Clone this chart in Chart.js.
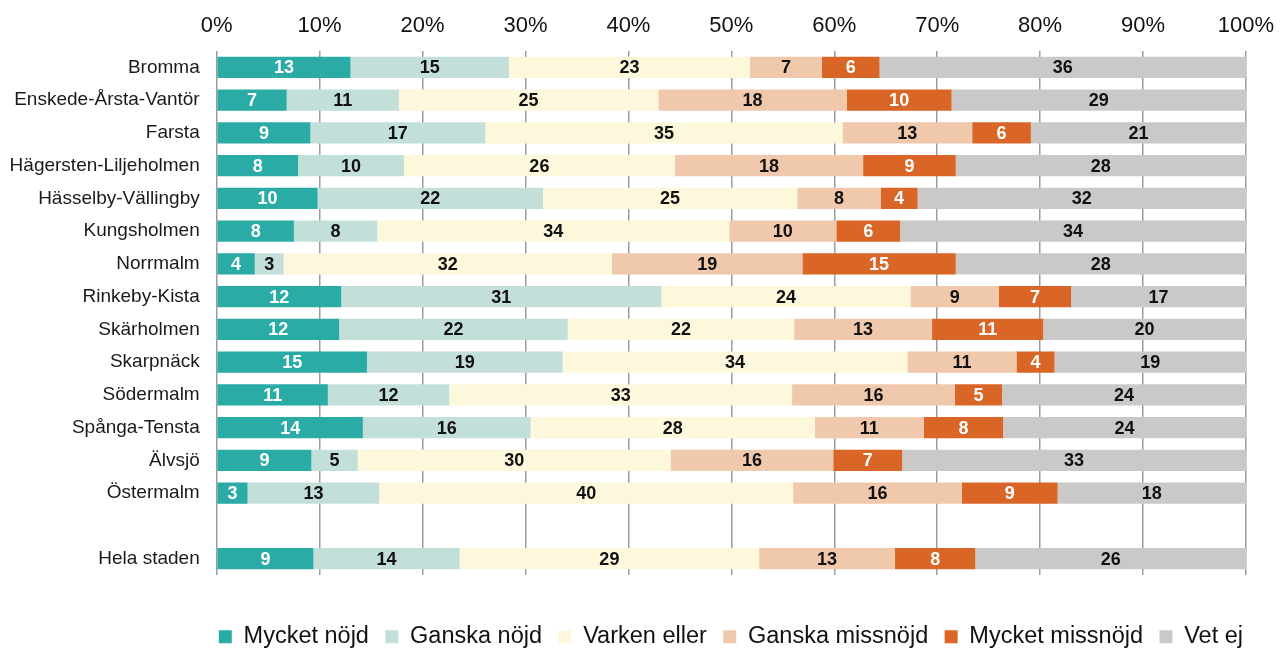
<!DOCTYPE html>
<html>
<head>
<meta charset="utf-8">
<script src="https://cdn.jsdelivr.net/npm/chart.js@4/dist/chart.umd.min.js"></script>
<style>
  html, body { margin: 0; padding: 0; background: #fff; }
  canvas { display: block; }
</style>
</head>
<body>
<canvas id="nojdChart" width="1282" height="650"></canvas>
<script>
// Stadsdelar (tom rad före Hela staden)
const stadsdelar = ['Bromma', 'Enskede-Årsta-Vantör', 'Farsta', 'Hägersten-Liljeholmen', 'Hässelby-Vällingby',
    'Kungsholmen', 'Norrmalm', 'Rinkeby-Kista', 'Skärholmen', 'Skarpnäck', 'Södermalm', 'Spånga-Tensta',
    'Älvsjö', 'Östermalm', '', 'Hela staden'];

const serieNamn = ['Mycket nöjd', 'Ganska nöjd', 'Varken eller', 'Ganska missnöjd', 'Mycket missnöjd', 'Vet ej'];

// Andelar i procent
const mycketNojd     = [13.0, 6.8, 9.1, 7.9, 9.8, 7.5, 3.7, 12.1, 11.9, 14.6, 10.8, 14.2, 9.2, 3.0, null, 9.4];
const ganskaNojd     = [15.4, 10.9, 17.0, 10.3, 21.9, 8.1, 2.8, 31.1, 22.2, 19.0, 11.8, 16.3, 4.5, 12.8, null, 14.2];
const varkenEller    = [23.4, 25.2, 34.7, 26.3, 24.7, 34.2, 31.9, 24.2, 22.0, 33.5, 33.3, 27.6, 30.4, 40.2, null, 29.1];
const ganskaMissnojd = [7.0, 18.3, 12.6, 18.3, 8.1, 10.4, 18.5, 8.6, 13.4, 10.6, 15.8, 10.6, 15.8, 16.4, null, 13.2];
const mycketMissnojd = [5.6, 10.2, 5.7, 9.0, 3.6, 6.2, 14.9, 7.0, 10.8, 3.7, 4.6, 7.7, 6.7, 9.3, null, 7.8];
const vetEj          = [35.6, 28.6, 20.9, 28.2, 31.9, 33.6, 28.2, 17.0, 19.7, 18.6, 23.7, 23.6, 33.4, 18.3, null, 26.3];

const xTicks = [0, 10, 20, 30, 40, 50, 60, 70, 80, 90, 100];

const farger = ['#2aaba5', '#c3dfda', '#fdf8dc', '#f0c8ab', '#d96627', '#cbc9c8'];
const textFarger = ['#ffffff', '#111111', '#111111', '#111111', '#ffffff', '#111111'];

const FONT = '"Liberation Sans", Arial, sans-serif';

// Siffror mitt i varje stapeldel
const stapelEtiketter = {
    id: 'stapelEtiketter',
    afterDatasetsDraw(chart) {
        const ctx = chart.ctx;
        ctx.save();
        ctx.font = 'bold 18px ' + FONT;
        ctx.textAlign = 'center';
        ctx.textBaseline = 'middle';
        chart.data.datasets.forEach((ds, i) => {
            const meta = chart.getDatasetMeta(i);
            meta.data.forEach((bar, j) => {
                const v = ds.data[j];
                if (v == null) return;
                const p = bar.getProps(['x', 'y', 'base'], true);
                ctx.fillStyle = textFarger[i];
                ctx.fillText(Math.round(v), (p.x + p.base) / 2, p.y + 1);
            });
        });
        ctx.restore();
    }
};

const serier = [mycketNojd, ganskaNojd, varkenEller, ganskaMissnojd, mycketMissnojd, vetEj];

const ctx = document.getElementById('nojdChart').getContext('2d');
new Chart(ctx, {
    type: 'bar',
    data: {
        labels: stadsdelar,
        datasets: serier.map((data, i) => ({
            label: serieNamn[i],
            data: data,
            backgroundColor: farger[i],
            borderWidth: 0,
            barPercentage: 0.65,
            categoryPercentage: 1
        }))
    },
    options: {
        indexAxis: 'y',
        responsive: false,
        animation: false,
        layout: { padding: { left: 0, right: 22.6, top: 0, bottom: -8.5 } },
        scales: {
            x: {
                position: 'top',
                stacked: true,
                min: 0,
                max: 100,
                afterBuildTicks: (scale) => { scale.ticks = xTicks.map(v => ({ value: v })); },
                afterFit: (scale) => {
                    scale.height = 51;
                    scale.paddingRight = 36;
                },
                ticks: {
                    callback: (v) => v + '%',
                    font: { family: FONT, size: 22 },
                    color: '#111',
                    padding: 12,
                    maxRotation: 0
                },
                grid: { color: '#9c9c9c', lineWidth: 1.5, drawTicks: false },
                border: { display: false }
            },
            y: {
                stacked: true,
                afterFit: (scale) => { scale.width = 216.7; },
                ticks: {
                    font: { family: FONT, size: 19 },
                    color: '#1a1a1a',
                    padding: 17,
                    autoSkip: false
                },
                grid: { display: false, drawTicks: false },
                border: { display: false }
            }
        },
        plugins: {
            legend: {
                position: 'bottom',
                align: 'end',
                title: { display: true, text: '', font: { size: 10, lineHeight: 1 }, padding: { top: 23.6, bottom: 0 } },
                labels: {
                    boxWidth: 13,
                    boxHeight: 13,
                    padding: 16.4,
                    color: '#111',
                    font: { family: FONT, size: 23.5 }
                }
            },
            tooltip: { enabled: false }
        }
    },
    plugins: [stapelEtiketter]
});
</script>
</body>
</html>
